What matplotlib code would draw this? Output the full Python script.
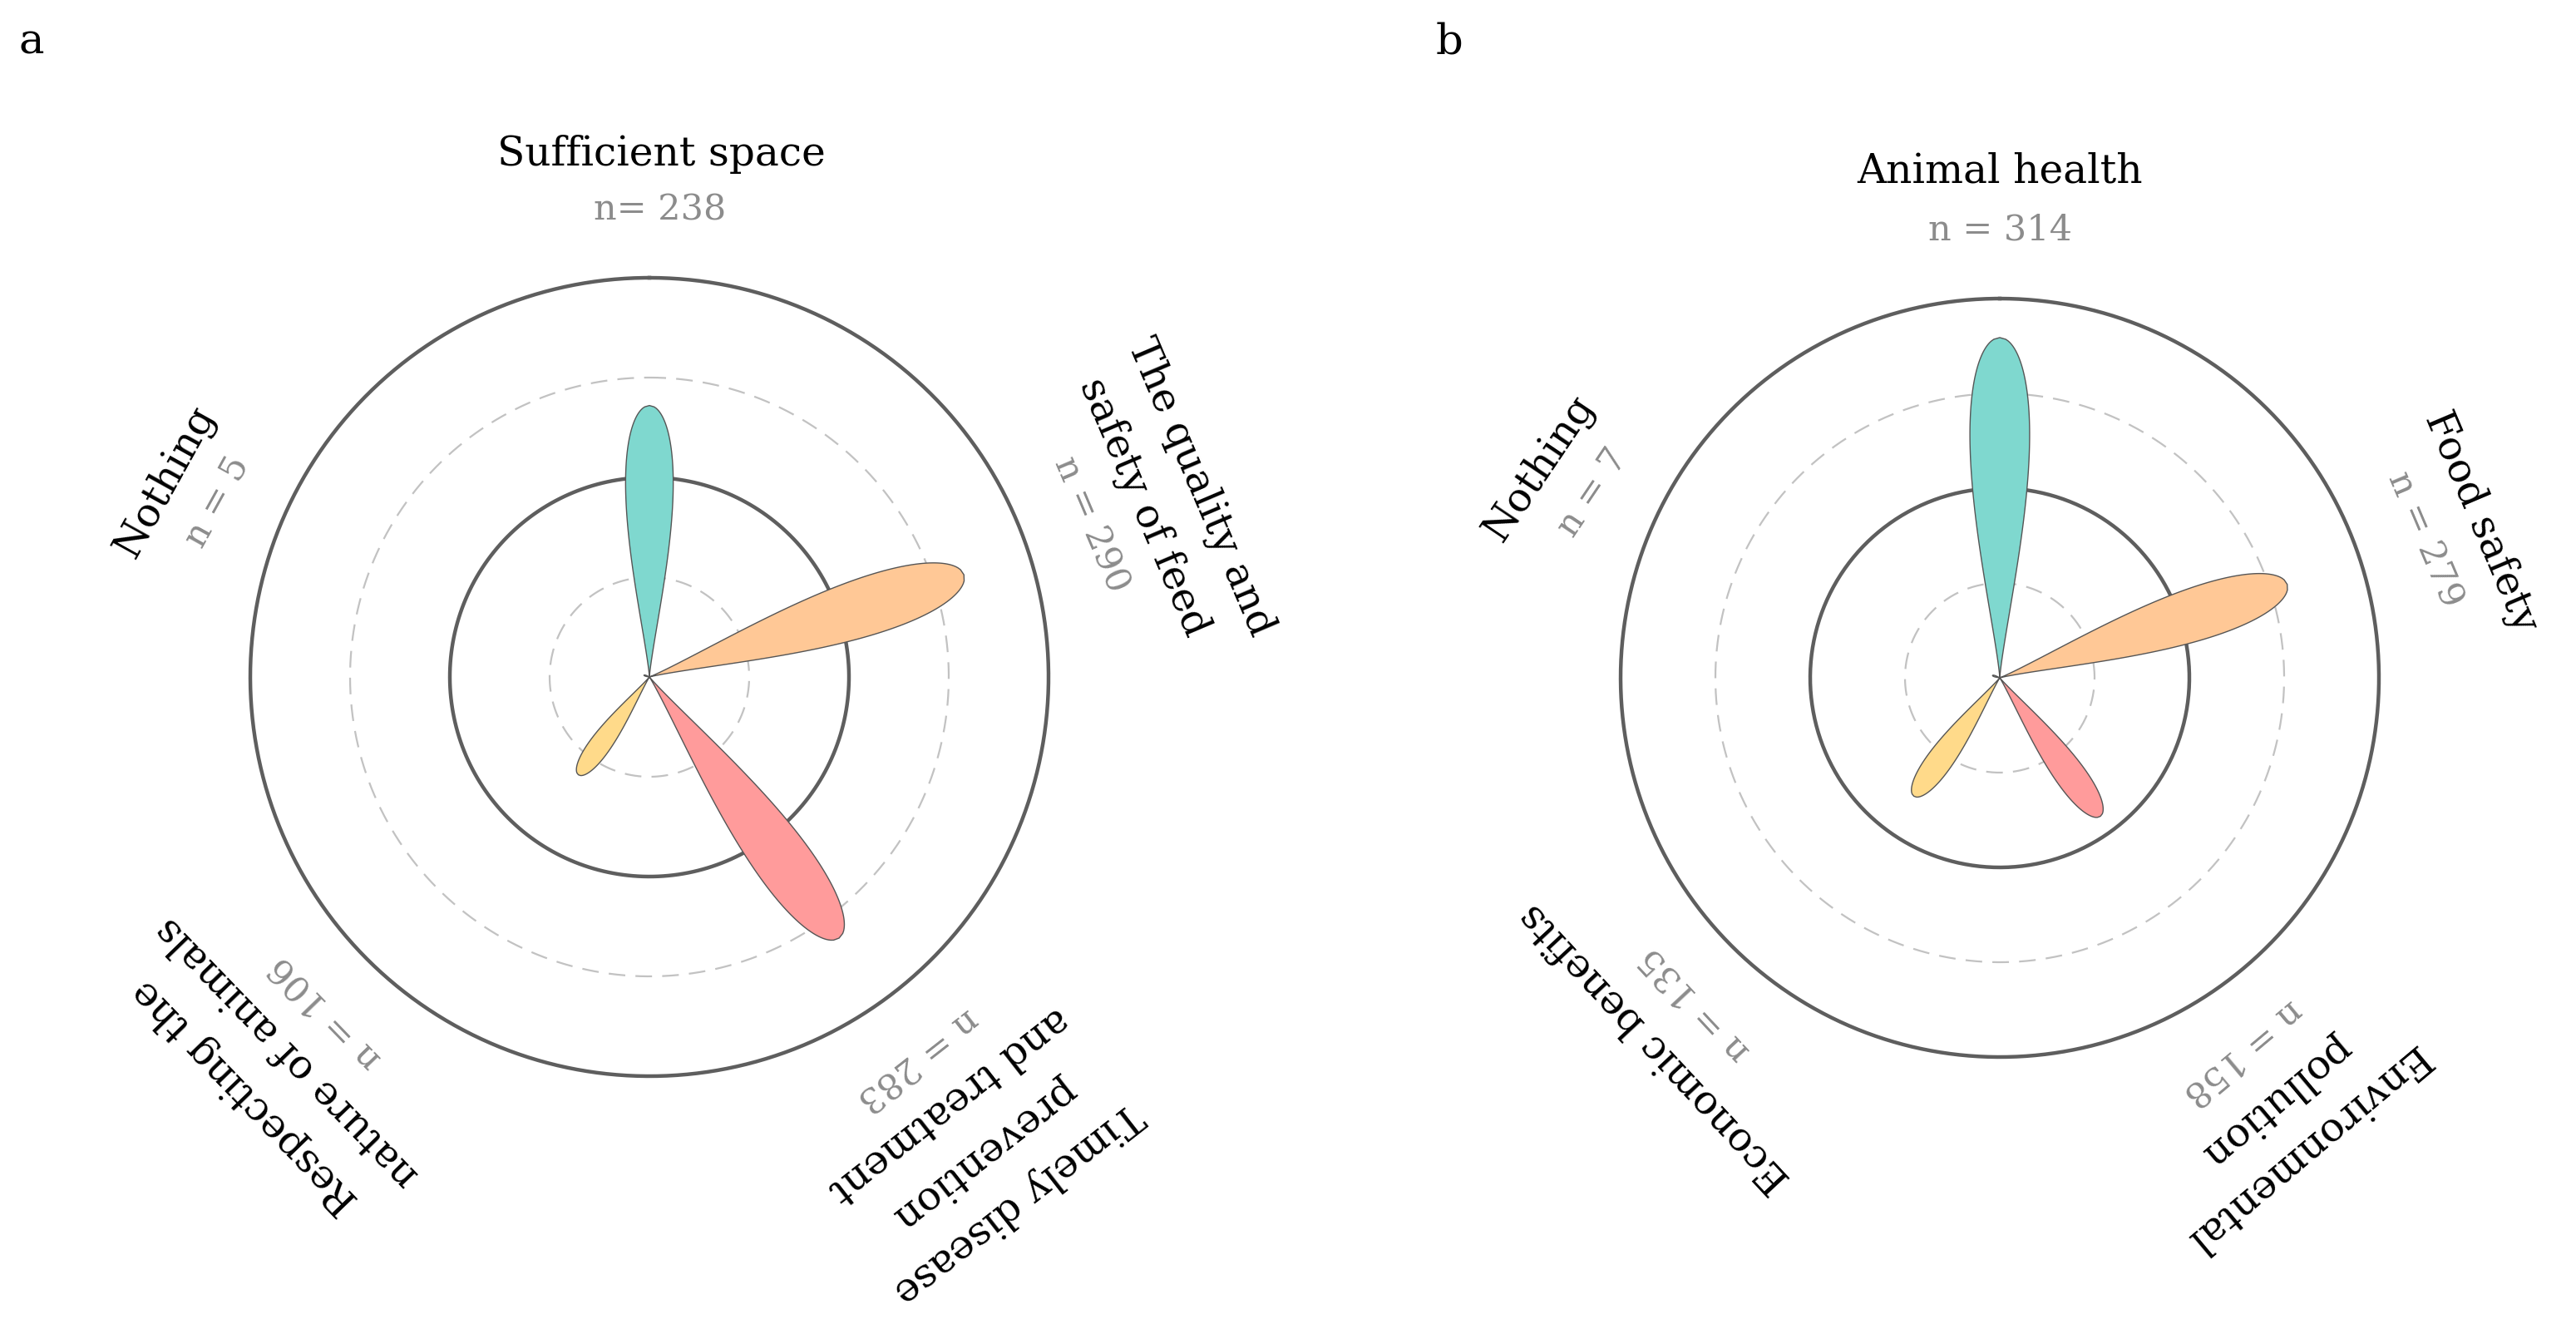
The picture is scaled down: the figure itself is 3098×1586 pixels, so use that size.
import numpy as np
import matplotlib
matplotlib.use('Agg')
import matplotlib.pyplot as plt

plt.rcParams['font.family'] = ['DejaVu Serif']

# panel a
labels_a = ['Sufficient space', 'The quality and\nsafety of feed', 'Timely disease\nprevention\nand treatment',
            'Respecting the\nnature of animals', 'Nothing']
n_a = [238, 290, 283, 106, 5]
# panel b
labels_b = ['Animal health', 'Food safety', 'Environmental\npollution', 'Economic benefits', 'Nothing']
n_b = [314, 279, 158, 135, 7]

angles_deg = [0, 72, 144, 216, 288]
colors = ['#7fd8cf', '#ffc896', '#ff9b9b', '#ffda8a', '#d9d9d9']
rmax = 350

# where the label blocks sit (angle of block, text rotation)
label_pos_a = [1.3, 71.0, 145, 224, 292]
label_rot_a = [0, -67, -142, -226, -299]
label_pos_b = [0, 72.0, 147, 223, 294.5]
label_rot_b = [0, -67, -140, -227, -304]


def petal(theta0, length, npts=200):
    u = np.linspace(0, 1, npts)
    half = 0.25 * u ** 1.25 * np.sqrt(1 - u)
    x = np.concatenate([u, u[::-1]]) * length
    y = np.concatenate([half, -half[::-1]]) * length
    return theta0 + np.arctan2(y, x), np.hypot(x, y)


def draw_panel(ax, labels, counts, pos, rots, r_n, r_name, first_sep='n = '):
    ax.set_theta_zero_location('N')
    ax.set_theta_direction(-1)
    ax.set_ylim(0, rmax)
    ax.axis('off')

    t = np.linspace(0, 2 * np.pi, 500)
    for r, ls, col, lw in [(rmax / 4, (0, (9, 5.5)), '#c2c2c2', 0.8),
                           (rmax / 2, '-', '#5e5e5e', 1.6),
                           (rmax * 3 / 4, (0, (9, 5.5)), '#c2c2c2', 0.8),
                           (rmax, '-', '#5e5e5e', 1.6)]:
        ax.plot(t, np.full_like(t, r), ls=ls, color=col, lw=lw, clip_on=False)

    for ang, n, col in zip(angles_deg, counts, colors):
        th, rr = petal(np.radians(ang), n)
        ax.fill(th, rr, facecolor=col, edgecolor='#555555', lw=0.5, zorder=3)

    for i, (p, rot, lab, n) in enumerate(zip(pos, rots, labels, counts)):
        th = np.radians(p)
        ntxt = (first_sep if i == 0 else 'n = ') + str(n)
        ax.text(th, rmax * r_n, ntxt, color='#8c8c8c', fontsize=15.5, rotation=rot,
                rotation_mode='anchor', ha='center', va='center', clip_on=False)
        lines = lab.split('\n')[::-1]
        for k, line in enumerate(lines):
            ax.text(th, rmax * (r_name + 0.15 * k), line, color='black', fontsize=17.5, rotation=rot,
                    rotation_mode='anchor', ha='center', va='center', clip_on=False)


fig = plt.figure(figsize=(15.49, 7.93), dpi=200)
ax_a = fig.add_axes([0.09716, 0.18411, 0.30988, 0.60530], projection='polar')
ax_b = fig.add_axes([0.62912, 0.19861, 0.29438, 0.57503], projection='polar')
draw_panel(ax_a, labels_a, n_a, label_pos_a, label_rot_a, 1.17, 1.31, first_sep='n= ')
draw_panel(ax_b, labels_b, n_b, label_pos_b, label_rot_b, 1.18, 1.335)

fig.text(0.0123, 0.968, 'a', fontsize=18.5, va='center', ha='center')
fig.text(0.5626, 0.968, 'b', fontsize=18.5, va='center', ha='center')

fig.savefig('out.png', dpi=200, facecolor='white')
